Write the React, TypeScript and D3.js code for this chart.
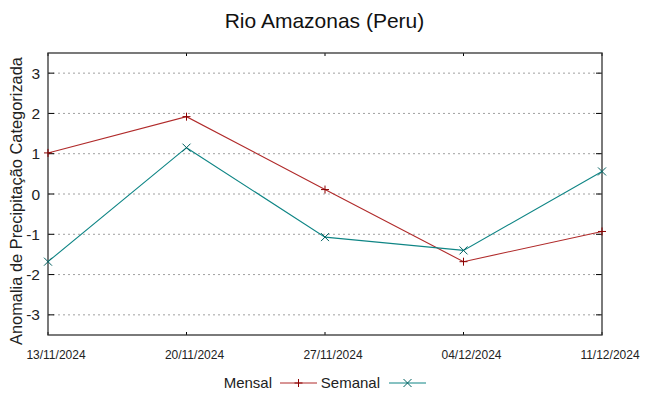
import { useRef, useEffect } from 'react';
import * as d3 from 'd3';

// dates on the x axis (weekly)
const dates = ['13/11/2024', '20/11/2024', '27/11/2024', '04/12/2024', '11/12/2024'];
const mensal = [1.02, 1.92, 0.11, -1.68, -0.93];
const semanal = [-1.68, 1.15, -1.07, -1.4, 0.56];
const yTicks = [-3, -2, -1, 0, 1, 2, 3];

const parseDate = d3.utcParse('%d/%m/%Y');

export default function App() {
  const svgRef = useRef<SVGSVGElement>(null);

  useEffect(() => {
    const w = 649;
    const h = 395;
    const m = { left: 48, right: 48, top: 53, bottom: 60 };
    const svg = d3.select(svgRef.current);
    svg.selectAll('*').remove();
    svg.attr('width', w).attr('height', h);

    const font = 'Liberation Sans, Arial, sans-serif';
    const red = '#b02a2a';
    const teal = '#0e8585';

    const xs = dates.map((d) => parseDate(d) as Date);
    const x = d3
      .scaleUtc()
      .domain([xs[0], xs[xs.length - 1]])
      .range([m.left, w - m.right + 1]);
    const y = d3.scaleLinear().domain([-3.5, 3.5]).range([h - m.bottom, m.top]);
    const x0 = m.left;
    const x1 = w - m.right + 1;
    const y0 = h - m.bottom;
    const y1 = m.top;

    // grid
    svg
      .selectAll('.grid')
      .data(yTicks)
      .enter()
      .append('line')
      .attr('x1', x0)
      .attr('x2', x1)
      .attr('y1', (d) => y(d))
      .attr('y2', (d) => y(d))
      .attr('stroke', '#a0a0a0')
      .attr('stroke-width', 1)
      .attr('stroke-dasharray', '2,3');

    // y ticks (left and right, inward)
    yTicks.forEach((t) => {
      svg.append('line').attr('x1', x0).attr('x2', x0 + 6).attr('y1', y(t)).attr('y2', y(t)).attr('stroke', '#000');
      svg.append('line').attr('x1', x1 - 6).attr('x2', x1).attr('y1', y(t)).attr('y2', y(t)).attr('stroke', '#000');
      svg
        .append('text')
        .attr('x', x0 - 8)
        .attr('y', y(t) + 5.5)
        .attr('text-anchor', 'end')
        .attr('font-family', font)
        .attr('font-size', 15.5)
        .attr('fill', '#222')
        .text(t);
    });

    // x ticks (bottom and top, inward); labels sit a bit right of the tick
    xs.forEach((d, i) => {
      svg.append('line').attr('x1', x(d)).attr('x2', x(d)).attr('y1', y0).attr('y2', y0 - 3).attr('stroke', '#000');
      svg.append('line').attr('x1', x(d)).attr('x2', x(d)).attr('y1', y1).attr('y2', y1 + 3).attr('stroke', '#000');
      svg
        .append('text')
        .attr('x', x(d) + 8)
        .attr('y', y0 + 24)
        .attr('text-anchor', 'middle')
        .attr('font-family', font)
        .attr('font-size', 12)
        .attr('fill', '#222')
        .text(dates[i]);
    });

    // frame
    svg
      .append('rect')
      .attr('x', x0)
      .attr('y', y1)
      .attr('width', x1 - x0)
      .attr('height', y0 - y1)
      .attr('fill', 'none')
      .attr('stroke', '#333')
      .attr('stroke-width', 1.3);

    const line = d3
      .line<number>()
      .x((_, i) => x(xs[i]))
      .y((d) => y(d));

    const plus = (g: any, cx: number, cy: number, c: string) => {
      g.append('path').attr('d', `M${cx - 4},${cy}H${cx + 4}M${cx},${cy - 4}V${cy + 4}`).attr('stroke', c).attr('stroke-width', 1);
    };
    const cross = (g: any, cx: number, cy: number, c: string) => {
      g.append('path')
        .attr('d', `M${cx - 4},${cy - 4}L${cx + 4},${cy + 4}M${cx - 4},${cy + 4}L${cx + 4},${cy - 4}`)
        .attr('stroke', c)
        .attr('stroke-width', 1);
    };

    svg.append('path').datum(mensal).attr('d', line).attr('fill', 'none').attr('stroke', red).attr('stroke-width', 1.1);
    svg.append('path').datum(semanal).attr('d', line).attr('fill', 'none').attr('stroke', teal).attr('stroke-width', 1.1);
    mensal.forEach((v, i) => plus(svg, x(xs[i]), y(v), '#8b0000'));
    semanal.forEach((v, i) => cross(svg, x(xs[i]), y(v), '#006060'));

    // title
    svg
      .append('text')
      .attr('x', 324.5)
      .attr('y', 28)
      .attr('text-anchor', 'middle')
      .attr('font-family', font)
      .attr('font-size', 21)
      .attr('fill', '#111')
      .text('Rio Amazonas (Peru)');

    // y label
    svg
      .append('text')
      .attr('transform', `translate(22, ${(y0 + y1) / 2 + 7}) rotate(-90)`)
      .attr('text-anchor', 'middle')
      .attr('font-family', font)
      .attr('font-size', 16.4)
      .attr('fill', '#222')
      .text('Anomalia de Precipitação Categorizada');

    // legend
    const ly = 383;
    svg.append('text').attr('x', 272).attr('y', ly + 5).attr('text-anchor', 'end').attr('font-family', font).attr('font-size', 15).attr('fill', '#222').text('Mensal');
    svg.append('line').attr('x1', 280).attr('x2', 317).attr('y1', ly).attr('y2', ly).attr('stroke', red);
    plus(svg, 298.5, ly, '#8b0000');
    svg.append('text').attr('x', 380).attr('y', ly + 5).attr('text-anchor', 'end').attr('font-family', font).attr('font-size', 15).attr('fill', '#222').text('Semanal');
    svg.append('line').attr('x1', 389).attr('x2', 426).attr('y1', ly).attr('y2', ly).attr('stroke', teal);
    cross(svg, 407.5, ly, '#006060');
  }, []);

  return <svg ref={svgRef} style={{ position: 'absolute', left: 0, top: 0 }}></svg>;
}
